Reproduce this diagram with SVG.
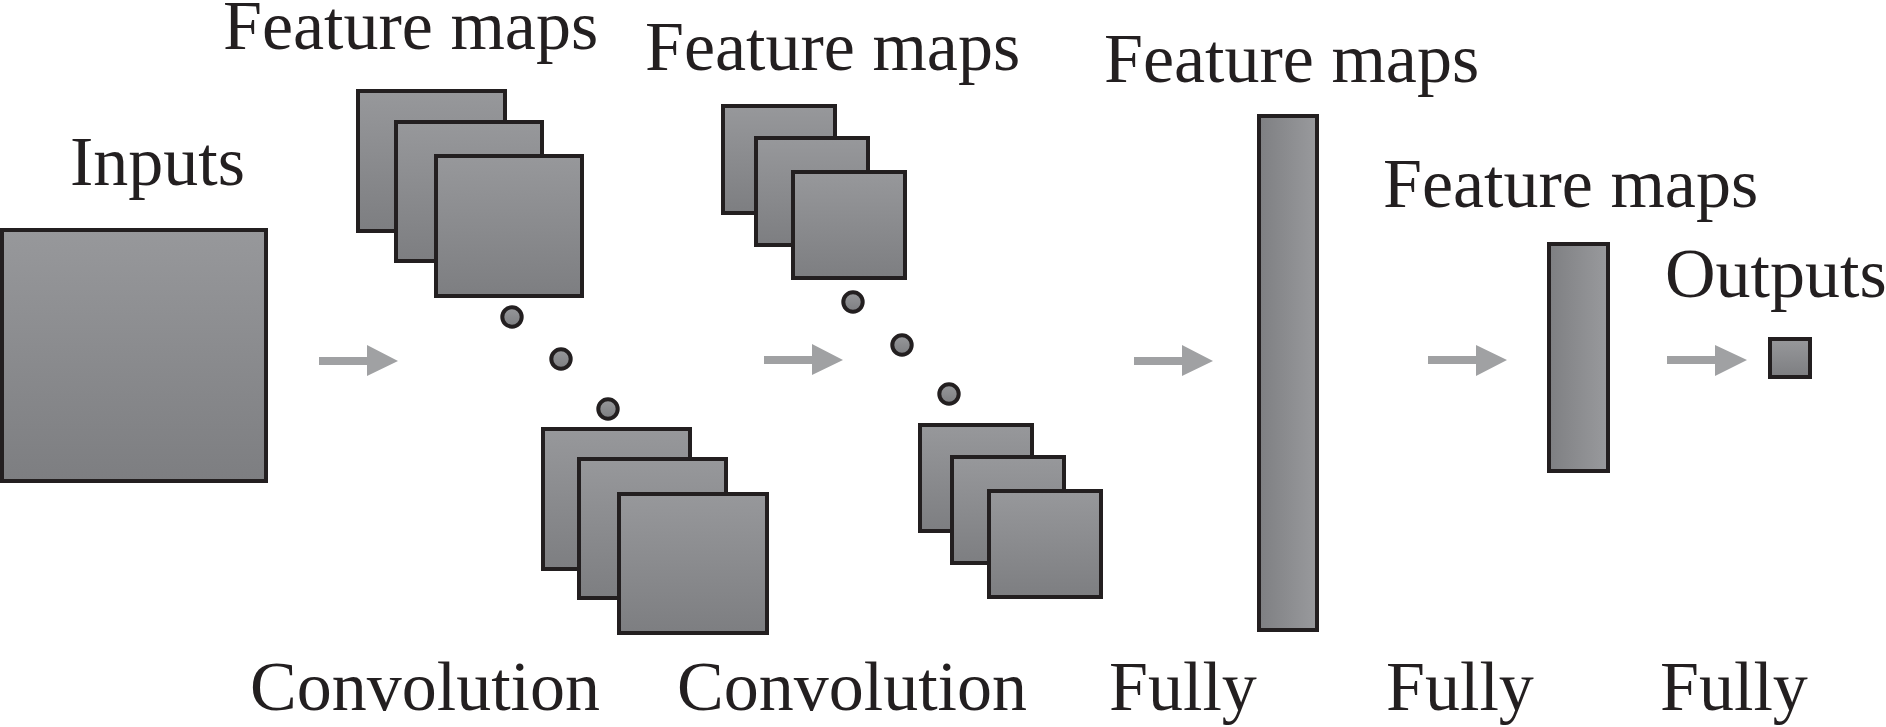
<svg xmlns="http://www.w3.org/2000/svg" width="1886" height="727" viewBox="0 0 1886 727">
<defs>
<linearGradient id="gv" x1="0" y1="0" x2="0" y2="1">
<stop offset="0" stop-color="#97989b"/>
<stop offset="1" stop-color="#7d7e81"/>
</linearGradient>
<linearGradient id="gh" x1="0" y1="0" x2="1" y2="0">
<stop offset="0" stop-color="#7e7f82"/>
<stop offset="1" stop-color="#999a9d"/>
</linearGradient>
<style>
.sq{fill:url(#gv);stroke:#231f20;stroke-width:4}
.bar{fill:url(#gh);stroke:#231f20;stroke-width:4}
.dot{fill:url(#gv);stroke:#231f20;stroke-width:4}
.arr{fill:#a0a1a3}
.t{font-family:'Liberation Serif','Noto Serif','Nimbus Roman','FreeSerif',Times,'DejaVu Serif',serif;font-size:70px;fill:#231f20}
</style>
</defs>
<rect width="1886" height="727" fill="#ffffff"/>

<g id="inputs">
<rect class="sq" x="2" y="230" width="264" height="251"/>
<text class="t" x="70" y="185">Inputs</text>
</g>

<g id="conv1-top">
<rect class="sq" x="358" y="91" width="147" height="140"/>
<rect class="sq" x="396" y="122" width="146" height="139"/>
<rect class="sq" x="436" y="156" width="146" height="140"/>
<text class="t" x="223" y="49">Feature maps</text>
</g>
<g id="conv1-dots">
<circle class="dot" cx="512" cy="317" r="9.7"/>
<circle class="dot" cx="561" cy="359" r="9.7"/>
<circle class="dot" cx="608" cy="409" r="9.7"/>
</g>
<g id="conv1-bottom">
<rect class="sq" x="543" y="429" width="147" height="140"/>
<rect class="sq" x="579" y="459" width="147" height="139"/>
<rect class="sq" x="619" y="494" width="148" height="139"/>
<text class="t" x="250" y="710">Convolution</text>
</g>

<g id="conv2-top">
<rect class="sq" x="723" y="106" width="112" height="107"/>
<rect class="sq" x="756" y="138" width="112" height="107"/>
<rect class="sq" x="793" y="172" width="112" height="106"/>
<text class="t" x="645" y="70">Feature maps</text>
</g>
<g id="conv2-dots">
<circle class="dot" cx="853" cy="302" r="9.7"/>
<circle class="dot" cx="902" cy="345" r="9.7"/>
<circle class="dot" cx="949" cy="394" r="9.7"/>
</g>
<g id="conv2-bottom">
<rect class="sq" x="920" y="425" width="112" height="106"/>
<rect class="sq" x="952" y="457" width="112" height="106"/>
<rect class="sq" x="989" y="491" width="112" height="106"/>
<text class="t" x="677" y="710">Convolution</text>
</g>

<g id="fc1">
<rect class="bar" x="1259" y="116" width="58" height="514"/>
<text class="t" x="1104" y="82">Feature maps</text>
<text class="t" x="1109" y="710">Fully</text>
</g>

<g id="fc2">
<rect class="bar" x="1549" y="244" width="59" height="227"/>
<text class="t" x="1383" y="207">Feature maps</text>
<text class="t" x="1386" y="710">Fully</text>
</g>

<g id="outputs">
<rect class="sq" x="1770" y="339" width="40" height="38"/>
<text class="t" x="1665" y="297">Outputs</text>
<text class="t" x="1660" y="710">Fully</text>
</g>

<g id="connectors">
<polygon class="arr" points="319,357 367,357 367,345 398,361 367,376 367,365 319,365"/>
<polygon class="arr" points="764,356 812,356 812,344 843,360 812,375 812,364 764,364"/>
<polygon class="arr" points="1134,357 1182,357 1182,345 1213,361 1182,376 1182,365 1134,365"/>
<polygon class="arr" points="1428,356 1476,356 1476,345 1507,360 1476,376 1476,364 1428,364"/>
<polygon class="arr" points="1667,356 1715,356 1715,345 1747,360 1715,376 1715,364 1667,364"/>
</g>
</svg>
